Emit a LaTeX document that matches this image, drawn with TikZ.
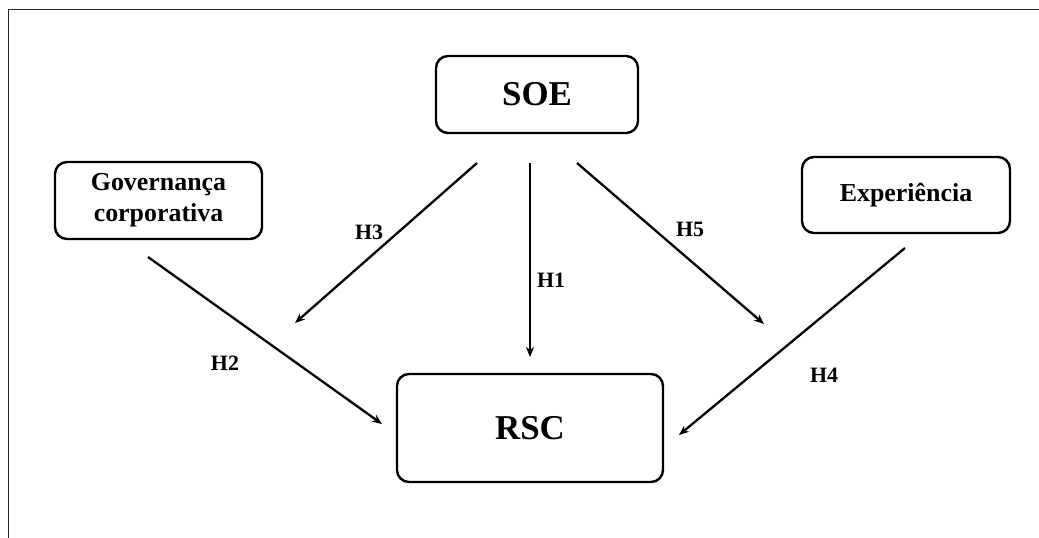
\documentclass[tikz,border=0pt]{standalone}
\usepackage{fontspec}
\setmainfont{Liberation Serif}
\usetikzlibrary{arrows.meta}
\begin{document}
\begin{tikzpicture}[x=1bp,y=-1bp,
  box/.style={draw=black, line width=2.4bp, rounded corners=12bp, inner sep=0pt, align=center, font=\bfseries},
  conn/.style={line width=2.3bp, -{Stealth[length=10bp,width=8bp]}},
  hyp/.style={font=\fontsize{22}{26}\selectfont\bfseries, inner sep=0pt}]
\useasboundingbox (0,0) rectangle (1039,538);
\draw[line width=1.8bp, black!85] (8.5,538) -- (8.5,9.5) -- (1039,9.5);
\node[box, minimum width=202bp, minimum height=77bp, font=\fontsize{35}{40}\selectfont\bfseries] (soe) at (537,94.5) {SOE};
\node[box, minimum width=266bp, minimum height=108bp, font=\fontsize{35}{40}\selectfont\bfseries] (rsc) at (530,428) {RSC};
\node[box, minimum width=207bp, minimum height=77bp, font=\fontsize{26}{31}\selectfont\bfseries] (gov) at (158.5,200.5) {Governança\\corporativa};
\node[box, minimum width=208bp, minimum height=76bp, font=\fontsize{26}{31}\selectfont\bfseries] (exp) at (906,195) {Experiência};
\coordinate (h1s) at (530,163); \coordinate (h1e) at (530,357);
\coordinate (h3s) at (477,163); \coordinate (h3e) at (295,323);
\coordinate (h5s) at (577,163); \coordinate (h5e) at (764,324);
\coordinate (h2s) at (148,257); \coordinate (h2e) at (382,424);
\coordinate (h4s) at (905,248); \coordinate (h4e) at (679,435);
\draw[conn] (h1s) -- (h1e);
\draw[conn] (h3s) -- (h3e);
\draw[conn] (h5s) -- (h5e);
\draw[conn] (h2s) -- (h2e);
\draw[conn] (h4s) -- (h4e);
\node[hyp] (l1) at (551,280) {H1};
\node[hyp] (l3) at (369,232) {H3};
\node[hyp] (l5) at (690,229) {H5};
\node[hyp] (l2) at (225,363) {H2};
\node[hyp] (l4) at (824,375) {H4};
\end{tikzpicture}
\end{document}
